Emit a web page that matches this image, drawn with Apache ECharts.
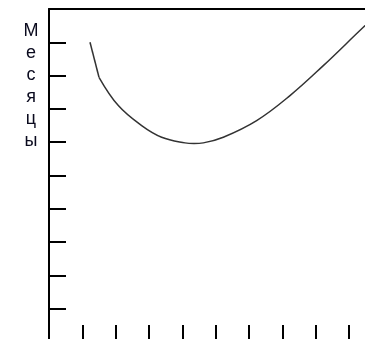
<html>
<head>
    <meta charset="utf-8">
    <title>Chart</title>
    <script src="https://cdn.jsdelivr.net/npm/echarts@6/dist/echarts.min.js"></script>
    <style>
        html, body { margin: 0; padding: 0; background: #fff; }
    </style>
</head>
<body>
    <div id="main" style="width: 365px; height: 339px;"></div>
    <script type="text/javascript">
        // данные кривой
        var xEdge = [1.23, 1.5];
        var yEdge = [9.0, 7.95];
        var xCurve = [1.5, 2.08, 2.78, 3.38, 4.08, 4.35, 4.63, 5.23, 6.23, 7.23, 8.23, 9.43, 9.55];
        var yCurve = [7.95, 7.10, 6.50, 6.15, 5.98, 5.96, 5.98, 6.15, 6.65, 7.40, 8.30, 9.45, 9.55];
        var axisName = 'Месяцы';

        function pairs(xs, ys) {
            var out = [];
            for (var i = 0; i < xs.length; i++) out.push([xs[i], ys[i]]);
            return out;
        }

        var myChart = echarts.init(document.getElementById('main'));
        var option = {
            animation: false,
            // сетка выходит за край холста справа и снизу
            grid: { left: 49, top: 9, width: 333.3, height: 333, outerBoundsMode: 'none', containLabel: false },
            graphic: [{
                type: 'text',
                x: 31,
                y: 20,
                style: {
                    text: axisName.split('').join('\n'),
                    font: '18px "Liberation Sans"',
                    lineHeight: 22,
                    fill: '#0a0a1e',
                    align: 'center'
                }
            }],
            xAxis: [{
                type: 'value',
                min: 0, max: 10, interval: 1,
                axisLine: { show: true, lineStyle: { color: '#000', width: 2 } },
                axisTick: { show: true, inside: true, length: 17, lineStyle: { color: '#000', width: 2 } },
                axisLabel: { show: false },
                splitLine: { show: false }
            }, {
                type: 'value',
                position: 'top',
                min: 0, max: 10,
                axisLine: { show: true, lineStyle: { color: '#000', width: 2 } },
                axisTick: { show: false },
                axisLabel: { show: false },
                splitLine: { show: false }
            }],
            yAxis: {
                type: 'value',
                min: 0, max: 10, interval: 1,
                axisLine: { show: true, lineStyle: { color: '#000', width: 2 } },
                axisTick: { show: true, inside: true, length: 17, lineStyle: { color: '#000', width: 2 } },
                axisLabel: { show: false },
                splitLine: { show: false }
            },
            series: [{
                type: 'line',
                data: pairs(xEdge, yEdge),
                showSymbol: false,
                lineStyle: { color: '#333', width: 1.5 }
            }, {
                type: 'line',
                data: pairs(xCurve, yCurve),
                smooth: 0.4,
                showSymbol: false,
                lineStyle: { color: '#333', width: 1.5 }
            }]
        };
        myChart.setOption(option);
    </script>
</body>
</html>
